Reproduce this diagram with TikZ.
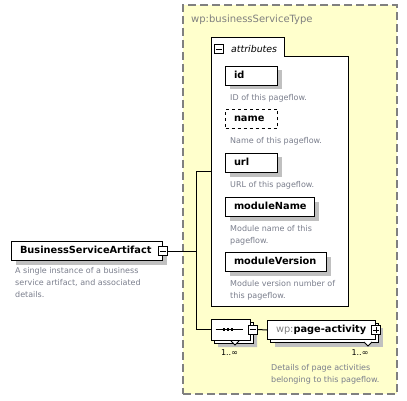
\documentclass[tikz,border=0pt]{standalone}
\usepackage{fontspec}
\setmainfont{DejaVu Sans}
\usepackage{tikz}
\definecolor{typeyellow}{RGB}{255,255,204}
\definecolor{framegray}{RGB}{128,128,128}
\definecolor{descgray}{RGB}{122,126,140}
\definecolor{shadowgray}{RGB}{192,192,192}
\usetikzlibrary{shapes.misc}
\usetikzlibrary{shadows}

\tikzset{
  typebox/.style={draw=framegray, fill=typeyellow, line width=1.2pt, dash pattern=on 8pt off 4pt,
                  minimum width=214pt, minimum height=389pt, inner sep=0pt},
  elembox/.style={draw=black, fill=white, line width=1pt, anchor=north west, minimum height=19pt,
                  inner xsep=8.5pt, inner ysep=0pt, text height=7.5pt, text depth=2pt, align=left,
                  font=\fontsize{9.8}{11}\selectfont\bfseries},
  boxshadow/.style={drop shadow={shadow xshift=4pt, shadow yshift=-4pt, fill=shadowgray, opacity=1}},
  descnote/.style={anchor=north west, inner sep=0pt, align=left, text=descgray,
                   font=\fontsize{8}{12}\selectfont},
  minusicon/.style={draw=black, fill=white, line width=0.8pt, minimum size=9pt, inner sep=0pt,
                    path picture={\draw[line width=0.8pt] ([xshift=1.8pt]path picture bounding box.west)
                                  -- ([xshift=-1.8pt]path picture bounding box.east);}},
  plusicon/.style={draw=black, fill=white, line width=0.8pt, minimum size=9pt, inner sep=0pt,
                   path picture={\draw[line width=0.8pt] ([xshift=1.8pt]path picture bounding box.west)
                                 -- ([xshift=-1.8pt]path picture bounding box.east);
                                 \draw[line width=0.8pt] ([yshift=-1.8pt]path picture bounding box.north)
                                 -- ([yshift=1.8pt]path picture bounding box.south);}},
  seqshape/.style={chamfered rectangle, chamfered rectangle xsep=5pt, draw=black, fill=white,
                   line width=1pt, minimum width=39pt, minimum height=21pt, inner sep=0pt},
  multlabel/.style={anchor=base, inner sep=0pt, font=\fontsize{8}{10}\selectfont}
}

\begin{document}
\begin{tikzpicture}[x=1pt,y=-1pt]
	\useasboundingbox (0,0) rectangle (407,401);

	\node[typebox] (bstype) at (290,199.5) {};
	\node[anchor=base west, inner sep=0pt, text=framegray, font=\fontsize{10}{12}\selectfont]
	    (typename) at (191,22.5) {wp:businessServiceType};

	\node[minimum width=137pt, minimum height=268pt, inner sep=0pt] (attrs) at (279.5,172) {};
	\draw[line width=1pt, fill=white] (211,306) -- (211,38) -- (284,38) -- (284,57) -- (348,57) -- (348,306) -- cycle;
	\node[minusicon] (attricon) at (219,49) {};
	\node[anchor=base west, inner sep=0pt, font=\fontsize{9.4}{11}\selectfont\itshape] (attrlabel) at (231,52.5) {attributes};

	\begin{scope}[every node/.append style={}]
	    \node[elembox, boxshadow, text width=35pt] (id) at (225,66) {id};
	    \node[descnote] (iddesc) at (230,94.5) {ID of this pageflow.};
	    \node[elembox, dashed, text width=35pt] (name) at (225,109) {name};
	    \node[descnote] (namedesc) at (230,137.5) {Name of this pageflow.};
	    \node[elembox, boxshadow, text width=35pt] (url) at (225,153) {url};
	    \node[descnote] (urldesc) at (230,181) {URL of this pageflow.};
	    \node[elembox, boxshadow, text width=72pt] (modname) at (225,197) {moduleName};
	    \node[descnote] (modnamedesc) at (230,225) {Module name of this\\pageflow.};
	    \node[elembox, boxshadow, text width=84pt] (modversion) at (225,252) {moduleVersion};
	    \node[descnote] (modversiondesc) at (230,280.5) {Module version number of\\this pageflow.};
	\end{scope}

	\node[elembox, boxshadow, text width=134pt] (bsa) at (11,241) {BusinessServiceArtifact};
	\node[minusicon] (bsaicon) at (bsa.east) {};
	\node[descnote] (bsadesc) at (15,267) {A single instance of a business\\service artifact, and associated\\details.};

	\node[seqshape, boxshadow] (seqback) at (233.5,332.5) {};
	\node[seqshape] (seq) at (230.5,329.5) {};
	\draw[line width=1pt] ([xshift=5pt]seq.west) -- ([xshift=-8pt]seq.east);
	\foreach \d in {-6.5,-2.5,1.5}
	    \fill ([xshift=\d pt]seq.center) ++(-1.3,-1.3) rectangle ++(2.6,2.6);
	\node[minusicon] (seqicon) at ([xshift=2.5pt]seq.east) {};
	\draw[line width=0.8pt, fill=white] (231,341) -- (235,345) -- (239,341);
	\node[multlabel] (seqmult) at (229.5,355) {1..∞};

	\node[elembox, boxshadow, text width=91pt] (paback) at (270,323) {};
	\node[elembox, text width=91pt] (pa) at (267,320) {\textcolor{framegray}{\mdseries wp:}page-activity};
	\node[plusicon] (paicon) at (pa.east) {};
	\draw[line width=0.8pt, fill=white] (364,342) -- (368,346) -- (372,342);
	\node[multlabel] (pamult) at (360,355) {1..∞};
	\node[descnote] (padesc) at (271,364.5) {Details of page activities\\belonging to this pageflow.};

	\begin{scope}[line width=1pt]
	    \coordinate (fork) at (196,251);
	    \draw (bsaicon.east) -- (fork);
	    \draw (fork) |- (attrs.west);
	    \draw (fork) |- (seq.west);
	    \draw (seqicon.east) -- (pa.west);
	\end{scope}
\end{tikzpicture}
\end{document}
